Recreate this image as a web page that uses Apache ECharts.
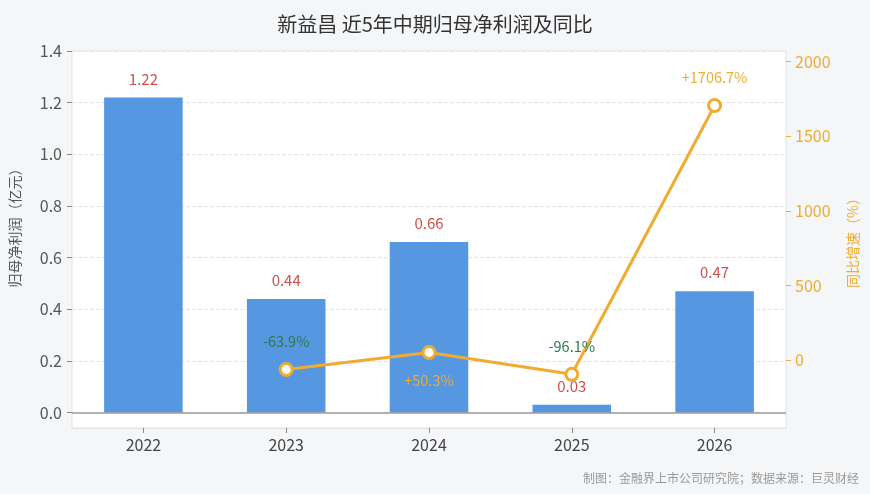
<!DOCTYPE html>
<html>
<head>
<meta charset="utf-8">
<script src="https://cdn.jsdelivr.net/npm/echarts@6/dist/echarts.min.js"></script>
<style>
  html, body { margin: 0; padding: 0; background: #f5f6f8; }
  #chart { width: 870px; height: 494px; }
</style>
</head>
<body>
<div id="chart"></div>
<script>
// data
var years = ['2022', '2023', '2024', '2025', '2026'];
var profit = [1.22, 0.44, 0.66, 0.03, 0.47];      // 亿元
var yoy = [null, -63.9, 50.3, -96.1, 1706.7];      // %
var yoyLabelPos = [null, 'top', 'bottom', 'top', 'top'];

var ORANGE = '#f0ab30';
var GREEN = '#2f7a4c';
var font = '"Noto Sans CJK SC", "Noto Sans", sans-serif';

var myChart = echarts.init(document.getElementById('chart'));

var yoyData = yoy.map(function (v, i) {
  if (v === null) return null;
  return {
    value: v,
    label: {
      position: yoyLabelPos[i],
      color: v >= 0 ? ORANGE : GREEN
    }
  };
});

var option = {
  backgroundColor: '#f5f6f8',
  textStyle: { fontFamily: font },
  title: {
    text: '新益昌 近5年中期归母净利润及同比',
    left: 'center',
    top: 9,
    textStyle: { fontSize: 20, fontWeight: 'normal', color: '#333', fontFamily: font }
  },
  grid: {
    left: 71, right: 84, top: 51, bottom: 66,
    show: true,
    backgroundColor: '#fff',
    borderColor: '#e3e3e3',
    borderWidth: 1
  },
  xAxis: {
    type: 'category',
    data: years,
    axisLine: { show: true, onZero: false, lineStyle: { color: '#e3e3e3' } },
    axisTick: { show: true, alignWithLabel: true, length: 5, lineStyle: { color: '#888' } },
    axisLabel: { fontSize: 16, color: '#444', margin: 9 }
  },
  yAxis: [
    {
      type: 'value',
      min: -0.06,
      max: 1.4,
      splitNumber: 7,
      name: '归母净利润（亿元）',
      nameLocation: 'middle',
      nameGap: 50,
      nameRotate: 90,
      nameTextStyle: { fontSize: 14, color: '#555', padding: [0, 0, 0, 30] },
      axisLine: { show: false },
      axisTick: { show: true, length: 5, lineStyle: { color: '#888' } },
      axisLabel: {
        fontSize: 16, color: '#555', margin: 10, showMinLabel: false,
        formatter: function (v) { return v < 0 ? '' : v.toFixed(1); }
      },
      splitLine: { show: true, lineStyle: { color: '#e4e4e4', type: 'dashed' } }
    },
    {
      type: 'value',
      min: -456,
      max: 2072,
      splitNumber: 5,
      name: '同比增速（%）',
      nameLocation: 'middle',
      nameGap: 60,
      nameRotate: 90,
      nameTextStyle: { fontSize: 14, color: ORANGE },
      axisLine: { show: false },
      axisTick: { show: true, length: 5, lineStyle: { color: ORANGE } },
      axisLabel: {
        fontSize: 16, color: ORANGE, margin: 9, showMinLabel: false, showMaxLabel: false,
        formatter: function (v) { return String(v); }
      },
      splitLine: { show: false }
    }
  ],
  series: [
    {
      name: '归母净利润',
      type: 'bar',
      data: profit,
      barWidth: '55%',
      itemStyle: { color: '#5597e0' },
      label: {
        show: true,
        position: 'top',
        distance: 11,
        fontSize: 15,
        color: '#c9524c',
        formatter: function (p) { return p.value.toFixed(2); }
      },
      markLine: {
        silent: true,
        symbol: 'none',
        label: { show: false },
        lineStyle: { color: '#9a9a9a', width: 1.5, type: 'solid' },
        data: [{ yAxis: 0 }]
      }
    },
    {
      name: '同比',
      type: 'line',
      yAxisIndex: 1,
      data: yoyData,
      connectNulls: false,
      symbol: 'circle',
      symbolSize: 12,
      lineStyle: { color: ORANGE, width: 3 },
      itemStyle: { color: '#fff', borderColor: ORANGE, borderWidth: 3 },
      label: {
        show: true,
        distance: 13,
        fontSize: 14.5,
        formatter: function (p) {
          var v = p.value;
          return (v > 0 ? '+' : '') + v.toFixed(1) + '%';
        }
      },
      z: 5
    }
  ],
  graphic: [
    {
      type: 'text',
      right: 11,
      bottom: 10,
      style: {
        text: '制图：金融界上市公司研究院；数据来源：巨灵财经',
        fontSize: 12,
        fill: '#999',
        fontFamily: font
      }
    }
  ]
};

myChart.setOption(option);
</script>
</body>
</html>
